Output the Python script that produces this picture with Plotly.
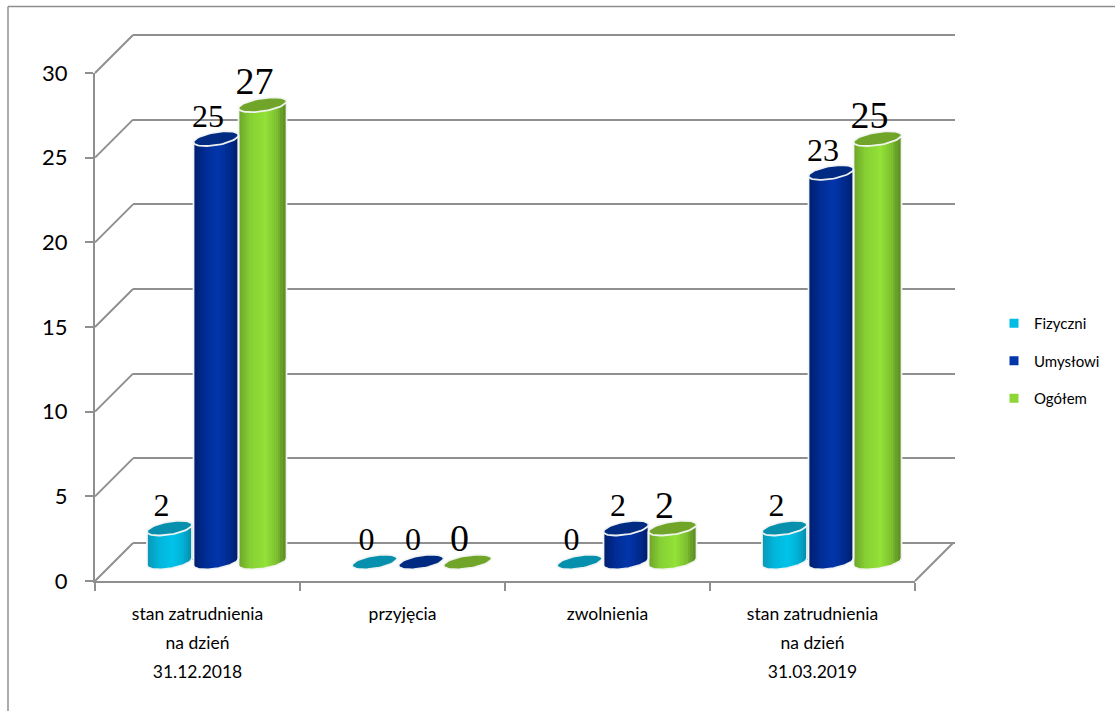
import math
import plotly.graph_objects as go

categories = [
    ["stan zatrudnienia", "na dzień", "31.12.2018"],
    ["przyjęcia"],
    ["zwolnienia"],
    ["stan zatrudnienia", "na dzień", "31.03.2019"],
]
series_names = ["Fizyczni", "Umysłowi", "Ogółem"]
fizyczni = [2, 0, 0, 2]
umyslowi = [25, 0, 2, 23]
ogolem = [27, 0, 2, 25]
y_ticks = [0, 5, 10, 15, 20, 25, 30]

W, H = 1115, 711
GRID = "#8f8f8f"
PX_Y = (581 - 73) / 30          # pixels per value unit
PX_X = (915 - 95) / 4           # pixels per category
FONT = "Lato"


def hx(px):
    return px / W


def hy(px):
    return (H - px) / H


series_values = [fizyczni, umyslowi, ogolem]
label_sizes = [32, 32, 38]
gradient = [
    [(0.0, "#0a96b4"), (0.25, "#02b4da"), (0.55, "#00c3ea"), (0.8, "#02b0d6"), (1.0, "#068aa8")],
    [(0.0, "#001f70"), (0.25, "#002c94"), (0.55, "#0335ab"), (0.8, "#002a8c"), (1.0, "#001c66")],
    [(0.0, "#6ea52a"), (0.25, "#86d033"), (0.55, "#93e237"), (0.8, "#7cc030"), (1.0, "#527d1e")],
]
cap_colors = ["#0790ae", "#012a82", "#70a52a"]
swatch_colors = ["#00bde6", "#0335ab", "#8ed635"]
bar_widths_px = [45, 45, 48]
bar_centres_px = [-46.5, 0, 46.5]


def mix(stops, t):
    for (t0, c0), (t1, c1) in zip(stops, stops[1:]):
        if t <= t1:
            f = (t - t0) / (t1 - t0)
            rgb = [round(int(c0[i:i + 2], 16) * (1 - f) + int(c1[i:i + 2], 16) * f) for i in (1, 3, 5)]
            return "rgb(%d,%d,%d)" % tuple(rgb)
    return stops[-1][1]


N_STRIPS = 23
ELL_B = 6.5 / PX_Y
ELL_S = 3.5 / PX_Y
BASE_PX = 562
EDGE = "rgba(244,246,244,0.97)"

fig = go.Figure()

# rear wall with its gridlines (first subplot, lowest layer)
fig.add_trace(go.Scatter(x=[0], y=[0], xaxis="x", yaxis="y", mode="markers",
                         marker=dict(opacity=0), showlegend=False, hoverinfo="skip"))
# front axes carrying the tick labels
span = '<span style="font-size:17.5px">%s</span>'
cat_labels = ["<br>".join(span % part for part in c) for c in categories]
fig.add_trace(go.Scatter(x=cat_labels, y=ogolem, xaxis="x2", yaxis="y2", mode="markers",
                         marker=dict(opacity=0), showlegend=False, hoverinfo="skip"))

# cylinders, built from vertical strips so the shading and the round foot come out
for s, values in enumerate(series_values):
    bw = bar_widths_px[s] / PX_X
    xs = [i + bar_centres_px[s] / PX_X for i in range(len(values))]
    for k in range(N_STRIPS):
        u = -1 + (2 * k + 1) / N_STRIPS
        foot = ELL_S * u - ELL_B * math.sqrt(1 - u * u)
        fig.add_trace(go.Bar(
            x=[x + u * bw / 2 for x in xs],
            y=[(v + ELL_S * u - foot) if v > 0 else 0 for v in values],
            base=[foot if v > 0 else 0 for v in values],
            width=bw / N_STRIPS * 1.25,
            xaxis="x3", yaxis="y3",
            marker=dict(color=mix(gradient[s], (u + 1) / 2), line=dict(width=0)),
            cliponaxis=False, showlegend=False, hoverinfo="skip",
        ))

T = [2 * math.pi * i / 60 for i in range(61)]
for s, values in enumerate(series_values):
    bw = bar_widths_px[s] / PX_X
    xs = [i + bar_centres_px[s] / PX_X for i in range(len(values))]
    # white outline of side and foot
    ox, oy = [], []
    for x, v in zip(xs, values):
        if v > 0:
            us = [-1 + i / 20 for i in range(41)]
            ox += [x - bw / 2] + [x + u * bw / 2 for u in us] + [x + bw / 2, None]
            oy += [v - ELL_S] + [ELL_S * u - ELL_B * math.sqrt(max(0, 1 - u * u)) for u in us] + [v + ELL_S, None]
    fig.add_trace(go.Scatter(x=ox, y=oy, xaxis="x3", yaxis="y3", mode="lines",
                             line=dict(color=EDGE, width=1.8),
                             cliponaxis=False, showlegend=False, hoverinfo="skip"))
    # top caps
    cx, cy = [], []
    for x, v in zip(xs, values):
        cx += [x + bw / 2 * math.cos(t) for t in T] + [None]
        cy += [v + ELL_S * math.cos(t) + ELL_B * math.sin(t) for t in T] + [None]
    fig.add_trace(go.Scatter(x=cx, y=cy, xaxis="x3", yaxis="y3", mode="lines", fill="toself",
                             fillcolor=cap_colors[s],
                             line=dict(color=EDGE, width=1.8),
                             cliponaxis=False, showlegend=False, hoverinfo="skip"))

# value labels
LABEL_DX = -8 / PX_X
LABEL_DY = 20 / PX_Y
for s, values in enumerate(series_values):
    xs = [i + bar_centres_px[s] / PX_X + LABEL_DX for i in range(len(values))]
    fig.add_trace(go.Scatter(x=xs, y=[v + LABEL_DY for v in values], xaxis="x3", yaxis="y3",
                             mode="text", text=[str(v) for v in values], textposition="middle center",
                             textfont=dict(family="Liberation Serif", size=label_sizes[s], color="#000000"),
                             cliponaxis=False, showlegend=False, hoverinfo="skip"))

# legend entries
for s, name in enumerate(series_names):
    fig.add_trace(go.Scatter(x=[None], y=[None], xaxis="x3", yaxis="y3", mode="markers", name=name,
                             legendgroup=name,
                             marker=dict(symbol="square", size=9, color=swatch_colors[s])))

# depth lines joining the front axes to the rear wall
shapes = []
DX, DY = 38, 38
for v in y_ticks:
    py = 581 - v * PX_Y
    shapes.append(dict(type="line", xref="paper", yref="paper", x0=hx(95), y0=hy(py),
                       x1=hx(95 + DX), y1=hy(py - DY), line=dict(color=GRID, width=2), layer="below"))
shapes.append(dict(type="line", xref="paper", yref="paper", x0=hx(915), y0=hy(581),
                   x1=hx(915 + DX), y1=hy(581 - DY), line=dict(color=GRID, width=2), layer="below"))
# page frame
shapes.append(dict(type="line", xref="paper", yref="paper", x0=hx(8), y0=hy(6.5), x1=1, y1=hy(6.5),
                   line=dict(color=GRID, width=1.5)))
shapes.append(dict(type="line", xref="paper", yref="paper", x0=hx(8), y0=hy(6.5), x1=hx(8), y1=0,
                   line=dict(color=GRID, width=1.5)))

WALL_PAD = 1.0  # value units of spare wall so the 0 and 30 gridlines are drawn

fig.update_layout(
    template="none",
    width=W, height=H, margin=dict(l=0, r=0, t=0, b=0, pad=0), autosize=False,
    paper_bgcolor="white", plot_bgcolor="rgba(0,0,0,0)",
    barmode="overlay", bargap=0, shapes=shapes,
    font=dict(family=FONT, color="#000000"),
    legend=dict(x=hx(994), y=hy(307), xanchor="left", yanchor="top", tracegroupgap=15,
                font=dict(size=15, family=FONT), bgcolor="rgba(0,0,0,0)", itemsizing="trace"),
    xaxis=dict(domain=[hx(95 + DX), hx(917 + DX)], range=[0, 4], showgrid=False, zeroline=False,
               showline=False, showticklabels=False, ticks="", automargin=False),
    yaxis=dict(domain=[hy(581 - DY + WALL_PAD * PX_Y), hy(73 - DY - WALL_PAD * PX_Y)],
               range=[-WALL_PAD, 30 + WALL_PAD], tickvals=y_ticks, showgrid=True,
               gridcolor=GRID, gridwidth=2, zeroline=False, showline=False, showticklabels=False,
               ticks="", anchor="x", automargin=False),
    xaxis2=dict(domain=[hx(95), hx(915)], type="category", categoryorder="array", categoryarray=cat_labels,
                range=[-0.5, 3.5], tickson="boundaries", ticks="outside", ticklen=8, tickwidth=2, tickcolor=GRID,
                showline=True, linecolor=GRID, linewidth=2, showgrid=False, zeroline=False,
                tickfont=dict(size=22.3, family=FONT), anchor="y2", automargin=False, ticklabelstandoff=10),
    yaxis2=dict(domain=[hy(581), hy(73)], range=[0, 30], tickvals=y_ticks, ticks="outside", ticklen=8,
                tickwidth=2, tickcolor=GRID, showline=True, linecolor=GRID, linewidth=2,
                showgrid=False, zeroline=False, tickfont=dict(size=22, family=FONT), anchor="x2",
                ticklabelstandoff=13, automargin=False),
    xaxis3=dict(domain=[hx(95 + 18.5), hx(915 + 18.5)], range=[-0.5, 3.5], visible=False, anchor="y3",
                automargin=False),
    yaxis3=dict(domain=[hy(BASE_PX + 2 * PX_Y), hy(BASE_PX - 32 * PX_Y)], range=[-2, 32], visible=False,
                anchor="x3", automargin=False),
)

fig.write_html("out.html", config={"displayModeBar": False},
               post_script="document.body.style.margin='0';document.body.style.overflow='hidden';")
